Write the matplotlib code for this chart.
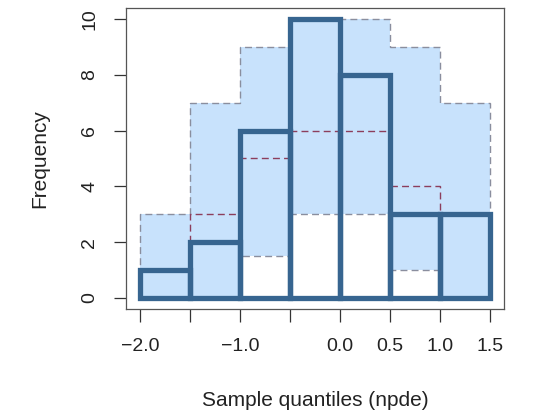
import numpy as np
import matplotlib.pyplot as plt

plt.rcParams['font.family'] = ['Liberation Sans', 'DejaVu Sans']

# bin edges of the npde histogram
edges = [-2.0, -1.5, -1.0, -0.5, 0.0, 0.5, 1.0, 1.5]
# observed counts per bin
observed = [1, 2, 6, 10, 8, 3, 3]
# prediction interval (lower, median, upper) from simulations
pi_lower = [0, 0, 1.5, 3, 3, 1, 0]
pi_median = [1, 3, 5, 6, 6, 4, 3]
pi_upper = [3, 7, 9, 10, 10, 9, 7]

xticks = [-2.0, -1.5, -1.0, -0.5, 0.0, 0.5, 1.0, 1.5]
xticklabels = ['\u22122.0', '', '\u22121.0', '', '0.0', '0.5', '1.0', '1.5']
yticks = [0, 2, 4, 6, 8, 10]

fill_col = '#c8e2fc'
obs_col = '#376590'
band_col = '#8a8e9e'
med_col = '#8c3e5c'

fig = plt.figure(figsize=(5.35, 4.17), dpi=100)
ax = fig.add_axes([0.2355, 0.259, 0.7065, 0.722])

# shaded prediction band
ax.stairs(pi_upper, edges, baseline=pi_lower, fill=True, color=fill_col, lw=0)
ax.stairs(pi_upper, edges, baseline=0, color=band_col, lw=1.0, ls=(0, (5, 3)))
ax.stairs(pi_lower, edges, baseline=None, color=band_col, lw=1.0, ls=(0, (5, 3)))
ax.stairs(pi_median, edges, baseline=None, color=med_col, lw=1.0, ls=(0, (5, 3)))

# observed histogram
widths = np.diff(edges)
ax.bar(edges[:-1], observed, width=widths, align='edge', fill=False,
       edgecolor=obs_col, linewidth=3.8)

ax.set_xlim(-2.14, 1.64)
ax.set_ylim(-0.4, 10.4)
ax.set_xticks(xticks)
ax.set_xticklabels(xticklabels)
ax.set_yticks(yticks)
ax.set_yticklabels([str(v) for v in yticks], rotation=90, va='center')
ax.tick_params(axis='both', length=9, width=0.9, color='#333333', labelsize=14,
               labelcolor='#222222')
ax.tick_params(axis='x', pad=12)
ax.tick_params(axis='y', pad=11)
for s in ax.spines.values():
    s.set_color('#555555')
    s.set_linewidth(0.9)

ax.set_xlabel('Sample quantiles (npde)', fontsize=15, labelpad=26, color='#222222')
ax.set_ylabel('Frequency', fontsize=15, labelpad=23, color='#222222')

fig.savefig('out.png', dpi=100)
